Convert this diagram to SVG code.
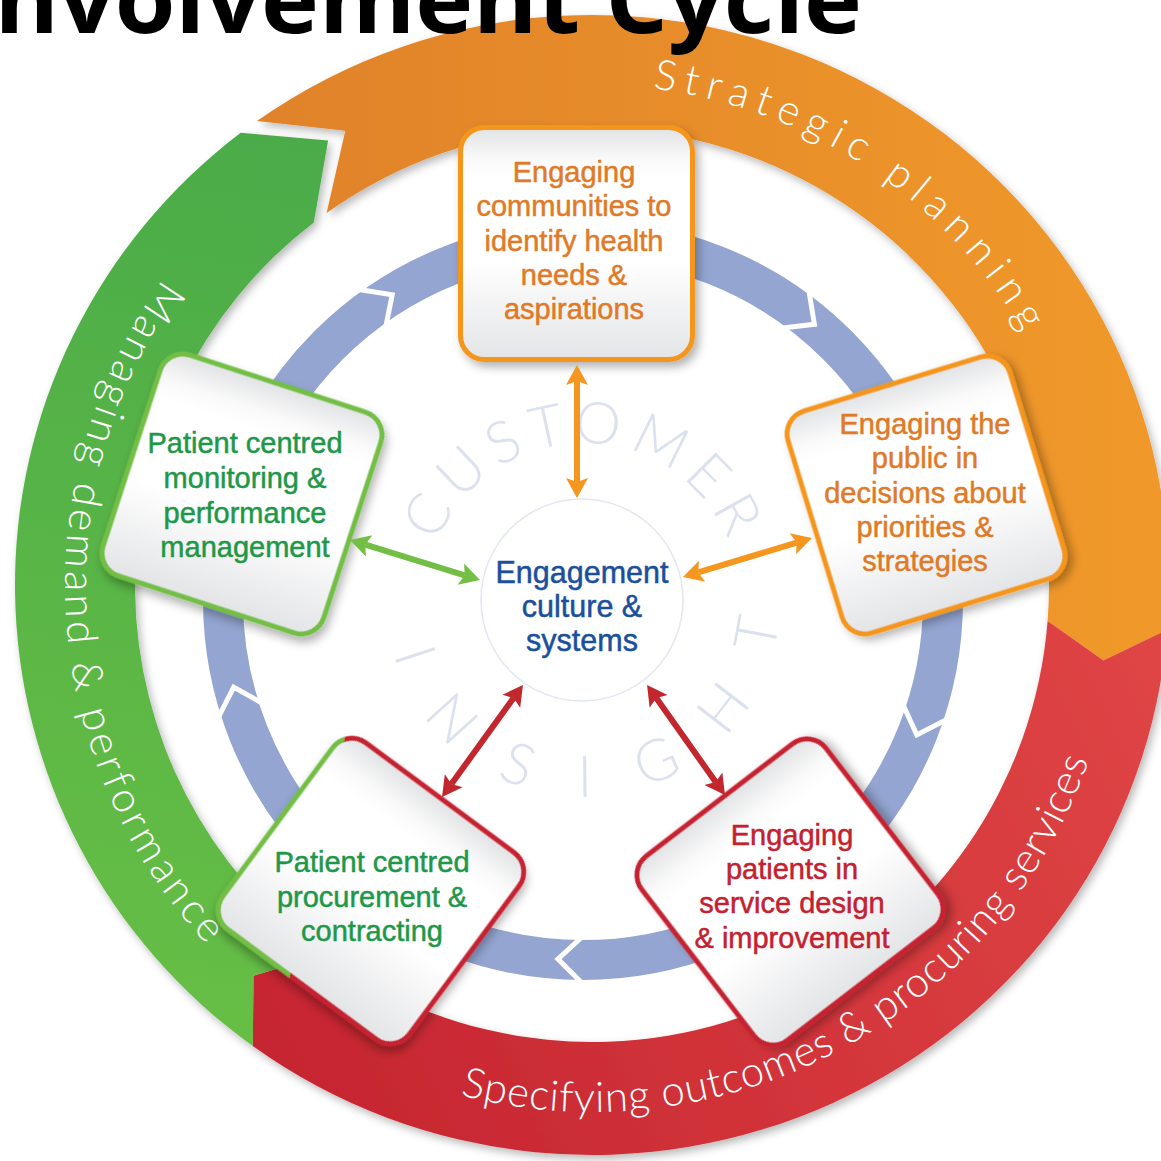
<svg xmlns="http://www.w3.org/2000/svg" width="1161" height="1161" viewBox="0 0 1161 1161">
  <defs>
    <filter id="ringShadow" x="-10%" y="-10%" width="120%" height="120%">
      <feDropShadow dx="3" dy="4" stdDeviation="4" flood-color="#000" flood-opacity="0.28"/>
    </filter>
    <filter id="boxShadow" x="-20%" y="-20%" width="140%" height="140%">
      <feDropShadow dx="4" dy="5" stdDeviation="5" flood-color="#000" flood-opacity="0.3"/>
    </filter>
    <linearGradient id="gOrange" gradientUnits="userSpaceOnUse" x1="250" y1="0" x2="1160" y2="0">
      <stop offset="0" stop-color="#E0822A"/>
      <stop offset="1" stop-color="#F0992C"/>
    </linearGradient>
    <linearGradient id="gRed" gradientUnits="userSpaceOnUse" x1="1160" y1="620" x2="250" y2="1050">
      <stop offset="0" stop-color="#E04545"/>
      <stop offset="1" stop-color="#C52530"/>
    </linearGradient>
    <linearGradient id="gGreen" gradientUnits="userSpaceOnUse" x1="300" y1="130" x2="150" y2="1000">
      <stop offset="0" stop-color="#4AAB48"/>
      <stop offset="1" stop-color="#66BE44"/>
    </linearGradient>
    <linearGradient id="boxFill" x1="0" y1="0" x2="0" y2="1">
      <stop offset="0" stop-color="#E1E2E4"/>
      <stop offset="0.14" stop-color="#FAFAFA"/>
      <stop offset="0.22" stop-color="#FFFFFF"/>
      <stop offset="0.58" stop-color="#FFFFFF"/>
      <stop offset="1" stop-color="#E3E4E6"/>
    </linearGradient>
    <!-- border of the procurement box: green on the upper-left, red elsewhere -->
    <linearGradient id="mixStroke" gradientUnits="userSpaceOnUse" x1="-120.6" y1="-114" x2="-111.4" y2="-118">
      <stop offset="0" stop-color="#73BE45"/>
      <stop offset="0.5" stop-color="#73BE45"/>
      <stop offset="0.5" stop-color="#C62331"/>
      <stop offset="1" stop-color="#C62331"/>
    </linearGradient>
    <marker id="hO" markerUnits="userSpaceOnUse" markerWidth="24" markerHeight="24" refX="4" refY="12" orient="auto-start-reverse">
      <path d="M0,1 L20,12 L0,23 L4,12 Z" fill="#F5961E"/>
    </marker>
    <marker id="hG" markerUnits="userSpaceOnUse" markerWidth="24" markerHeight="24" refX="4" refY="12" orient="auto-start-reverse">
      <path d="M0,1 L20,12 L0,23 L4,12 Z" fill="#73BE45"/>
    </marker>
    <marker id="hR" markerUnits="userSpaceOnUse" markerWidth="24" markerHeight="24" refX="4" refY="12" orient="auto-start-reverse">
      <path d="M0,1 L20,12 L0,23 L4,12 Z" fill="#C1272D"/>
    </marker>
    <path id="pStrat" d="M 652.9,88.7 A 500 500 0 0 1 1033.5,350.3"/>
    <path id="pManage" d="M 163.0,279.0 A 527 527 0 0 0 219.4,957.6"/>
    <path id="pSpec" d="M 460.1,1095.2 A 527 527 0 0 0 1093.2,747.9"/>
    <path id="pCust" d="M 436.8,542.7 A 157 157 0 0 1 727.8,539.4"/>
    <path id="pIns" d="M 393.6,654.3 A 197 197 0 0 0 778.9,620.6"/>
  </defs>
  <style>
    .band { font-family: Lato, "Open Sans", "Liberation Sans", sans-serif; font-weight: 300; font-size: 42px; fill: #FFFFFF; }
    .insight { font-family: Lato, "Open Sans", "Liberation Sans", sans-serif; font-weight: 300; font-size: 58px; fill: #DCE1EF; }
    .box { fill: url(#boxFill); stroke-width: 5; filter: url(#boxShadow); }
    .b-orange { stroke: #F5961E; }
    .b-green { stroke: #73BE45; }
    .b-red { stroke: #C62331; }
    .b-mix { stroke: url(#mixStroke); }
    .lbl { font-family: "Liberation Sans", Arial, Helvetica, sans-serif; font-size: 29px; text-anchor: middle; stroke-width: 0.5px; }
    .t-orange { fill: #E07A26; stroke: #E07A26; }
    .t-green { fill: #1E9848; stroke: #1E9848; }
    .t-red { fill: #C42030; stroke: #C42030; }
    .t-blue { fill: #1B4F9C; stroke: #1B4F9C; font-size: 30.5px; }
    .conn { fill: none; stroke-width: 6; }
    .c-orange { stroke: #F5961E; marker-start: url(#hO); marker-end: url(#hO); }
    .c-green { stroke: #73BE45; marker-start: url(#hG); marker-end: url(#hG); }
    .c-red { stroke: #C1272D; marker-start: url(#hR); marker-end: url(#hR); }
    .chev { fill: none; stroke: #FFFFFF; stroke-width: 5; }
  </style>

  <rect width="1161" height="1161" fill="#FFFFFF"/>

  <!-- outer cycle: three arrow-shaped bands -->
  <g id="outer-ring" filter="url(#ringShadow)">
    <path id="band-strategic" fill="url(#gOrange)" d="M 256.9,121.0 A 577 570 0 0 1 1167.2,629.7 L 1103.4,660.5 L 1047.6,620.9 A 457 457 0 0 0 326.6,213.0 L 345.3,130.7 Z"/>
    <path id="band-specifying" fill="url(#gRed)" d="M 1167.2,629.7 A 577 570 0 0 1 252.8,1046.1 L 253.5,975.8 L 323.4,954.7 A 457 457 0 0 0 1047.6,620.9 L 1103.4,660.5 Z"/>
    <path id="band-managing" fill="url(#gGreen)" d="M 252.8,1046.1 A 577 570 0 0 1 240.7,132.8 L 328.1,140.4 L 313.8,222.4 A 457 457 0 0 0 323.4,954.7 L 253.5,975.8 Z"/>
  </g>
  <g id="band-labels">
    <text class="band"><textPath href="#pStrat" textLength="459" lengthAdjust="spacing">Strategic planning</textPath></text>
    <text class="band"><textPath href="#pManage" textLength="722" lengthAdjust="spacing">Managing demand &amp; performance</textPath></text>
    <text class="band"><textPath href="#pSpec" textLength="782" lengthAdjust="spacing">Specifying outcomes &amp; procuring services</textPath></text>
  </g>

  <!-- inner cycle ring with chevron breaks -->
  <g id="inner-ring">
    <circle cx="583" cy="600" r="360" fill="none" stroke="#93A5D0" stroke-width="40"/>
    <polyline class="chev" points="808.7,289.3 814.4,324.2 780.5,328.2"/>
    <polyline class="chev" points="948.2,718.7 916.8,734.9 902.6,703.8"/>
    <polyline class="chev" points="583,984 557.9,959.1 583,936"/>
    <polyline class="chev" points="217.8,718.7 233.7,687.1 263.4,703.8"/>
    <polyline class="chev" points="357.3,289.3 392.2,294.7 385.5,328.2"/>
  </g>

  <g id="customer-insight">
    <text class="insight"><textPath href="#pCust" textLength="372" lengthAdjust="spacing">CUSTOMER</textPath></text>
    <text class="insight"><textPath href="#pIns" textLength="543" lengthAdjust="spacing">INSIGHT</textPath></text>
  </g>

  <!-- hub -->
  <g id="n-engagement">
    <circle cx="582" cy="600" r="101" fill="#FFFFFF" stroke="#E3E7F1" stroke-width="1.5"/>
    <text class="lbl t-blue" x="582" y="583">Engagement</text>
    <text class="lbl t-blue" x="582" y="617">culture &amp;</text>
    <text class="lbl t-blue" x="582" y="651">systems</text>
  </g>

  <!-- activity boxes -->
  <g id="n-communities">
    <rect class="box b-orange" transform="translate(576.5,243.5)" x="-116" y="-116" width="232" height="232" rx="24"/>
    <text class="lbl t-orange" x="574" y="182">Engaging</text>
    <text class="lbl t-orange" x="574" y="216">communities to</text>
    <text class="lbl t-orange" x="574" y="251">identify health</text>
    <text class="lbl t-orange" x="574" y="285">needs &amp;</text>
    <text class="lbl t-orange" x="574" y="319">aspirations</text>
  </g>
  <g id="n-public">
    <rect class="box b-orange" transform="translate(926,495) rotate(-17)" x="-116" y="-116" width="232" height="232" rx="24"/>
    <text class="lbl t-orange" x="925" y="434">Engaging the</text>
    <text class="lbl t-orange" x="925" y="468">public in</text>
    <text class="lbl t-orange" x="925" y="503">decisions about</text>
    <text class="lbl t-orange" x="925" y="537">priorities &amp;</text>
    <text class="lbl t-orange" x="925" y="571">strategies</text>
  </g>
  <g id="n-service">
    <rect class="box b-red" transform="translate(790,892) rotate(-37.5)" x="-116" y="-116" width="232" height="232" rx="24"/>
    <text class="lbl t-red" x="792" y="845">Engaging</text>
    <text class="lbl t-red" x="792" y="879">patients in</text>
    <text class="lbl t-red" x="792" y="913">service design</text>
    <text class="lbl t-red" x="792" y="948">&amp; improvement</text>
  </g>
  <g id="n-procurement">
    <rect class="box b-mix" transform="translate(371,891) rotate(36.5)" x="-116" y="-116" width="232" height="232" rx="24"/>
    <text class="lbl t-green" x="372" y="872">Patient centred</text>
    <text class="lbl t-green" x="372" y="907">procurement &amp;</text>
    <text class="lbl t-green" x="372" y="941">contracting</text>
  </g>
  <g id="n-monitoring">
    <rect class="box b-green" transform="translate(242,494) rotate(18)" x="-116" y="-116" width="232" height="232" rx="24"/>
    <text class="lbl t-green" x="245" y="453">Patient centred</text>
    <text class="lbl t-green" x="245" y="488">monitoring &amp;</text>
    <text class="lbl t-green" x="245" y="523">performance</text>
    <text class="lbl t-green" x="245" y="557">management</text>
  </g>

  <!-- two-way links between the hub and each box -->
  <g id="connectors">
    <line class="conn c-orange" x1="577" y1="381" x2="577" y2="482"/>
    <line class="conn c-orange" x1="698.3" y1="572.4" x2="796.7" y2="542.6"/>
    <line class="conn c-green" x1="365.3" y1="544.7" x2="464.7" y2="575.3"/>
    <line class="conn c-red" x1="451.4" y1="784.0" x2="513.6" y2="698.0"/>
    <line class="conn c-red" x1="656.3" y1="698.1" x2="715.7" y2="782.0"/>
  </g>

  <text id="title" x="-38" y="33" font-family="'Open Sans', 'Liberation Sans', sans-serif" font-weight="700" font-size="94" textLength="900" lengthAdjust="spacingAndGlyphs" fill="#000000">Involvement Cycle</text>
</svg>
